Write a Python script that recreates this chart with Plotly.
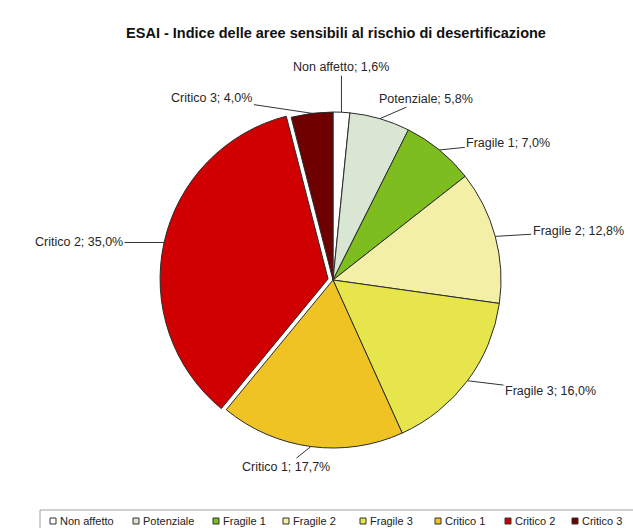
import math
import plotly.graph_objects as go

# ESAI classes and their share of the territory (%)
categories = ["Non affetto", "Potenziale", "Fragile 1", "Fragile 2",
              "Fragile 3", "Critico 1", "Critico 2", "Critico 3"]
shares = [1.6, 5.8, 7.0, 12.8, 16.0, 17.7, 35.0, 4.0]
colors = ["#ffffff", "#d8e6d3", "#7dbd1f", "#f4efa6",
          "#e6e64c", "#f0c325", "#d10000", "#6e0000"]
pulls = [0, 0, 0, 0, 0, 0, 0.03, 0]

W, H = 633, 528
CX, CY, R = 333, 280, 168          # pie centre / radius in pixels
max_pull = max(pulls)
half = R * (1 + max_pull)
FONT = "Liberation Sans, Arial, sans-serif"

# pixel offsets of each label centre from the rim of its slice
label_offsets = [(0, -45), (46, -20), (69, -7), (83, -5),
                 (83, 10), (-25, 20), (-85, 0), (-100, -15)]

# left edge (px) of each legend swatch along the bottom strip
legend_x = [50, 133, 213, 283, 360, 435, 505, 572]
LEGEND_Y = 521

fig = go.Figure(go.Pie(
    labels=categories,
    values=shares,
    marker=dict(colors=colors, line=dict(color="#2b2b2b", width=1)),
    pull=pulls,
    sort=False,
    direction="clockwise",
    rotation=0,
    textinfo="none",
    showlegend=False,
    hovertemplate="%{label}; %{value:.1f}%<extra></extra>",
    domain=dict(x=[(CX - half) / W, (CX + half) / W],
                y=[1 - (CY + half) / H, 1 - (CY - half) / H]),
))

# leader-line labels anchored on the rim at each slice's mid angle
total = sum(shares)
cum = 0.0
annotations = []
for name, v, p, (dx, dy) in zip(categories, shares, pulls, label_offsets):
    mid = (cum + v / 2) / total * 2 * math.pi
    cum += v
    rr = R * (1 + p)
    px = CX + rr * math.sin(mid)
    py = CY - rr * math.cos(mid)
    annotations.append(dict(
        x=px / W, y=1 - py / H, xref="paper", yref="paper",
        text=f"{name}; {v:.1f}%".replace(".", ","),
        showarrow=True, arrowhead=0, arrowwidth=1, arrowcolor="#333333",
        ax=dx, ay=dy, standoff=0,
        font=dict(family=FONT, size=12.5, color="#262626"),
    ))

# legend strip: framed box with a swatch and a name per class
shapes = [dict(type="rect", xref="paper", yref="paper",
               x0=40 / W, x1=660 / W, y0=1 - 545 / H, y1=1 - 510 / H,
               line=dict(color="#a0a0a0", width=1), fillcolor="rgba(0,0,0,0)")]
for name, c, lx in zip(categories, colors, legend_x):
    shapes.append(dict(type="rect", xref="paper", yref="paper",
                       x0=lx / W, x1=(lx + 6) / W,
                       y0=1 - (LEGEND_Y + 3) / H, y1=1 - (LEGEND_Y - 3) / H,
                       line=dict(color="#333333", width=1), fillcolor=c))
    annotations.append(dict(
        x=(lx + 8) / W, y=1 - LEGEND_Y / H, xref="paper", yref="paper",
        xanchor="left", yanchor="middle", showarrow=False, text=name,
        font=dict(family=FONT, size=11, color="#222222"),
    ))

fig.update_layout(
    width=W, height=H,
    margin=dict(l=0, r=0, t=0, b=0),
    paper_bgcolor="white",
    plot_bgcolor="white",
    title=dict(
        text="<b>ESAI - Indice delle aree sensibili al rischio di desertificazione</b>",
        x=336 / W, xanchor="center", y=1 - 33 / H, yanchor="middle",
        font=dict(family=FONT, size=14.5, color="#111111"),
    ),
    annotations=annotations,
    shapes=shapes,
    separators=",.",
    showlegend=False,
)

fig.write_html("out.html")
